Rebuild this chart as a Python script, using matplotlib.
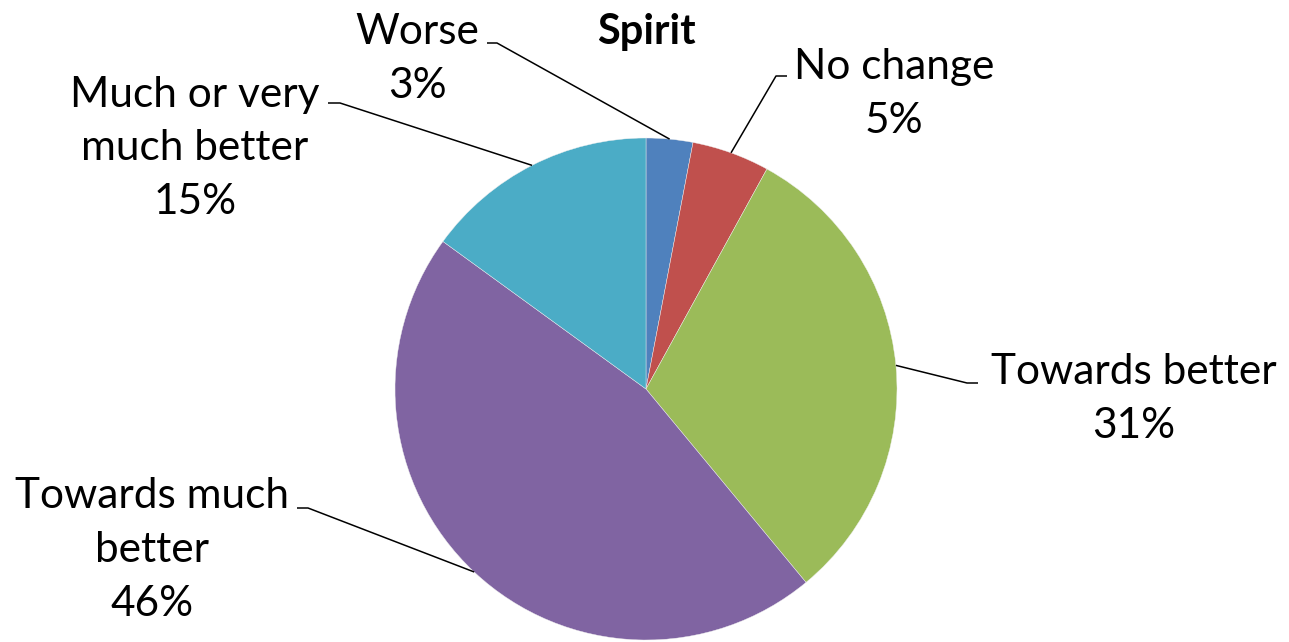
import numpy as np
import matplotlib.pyplot as plt

W, H = 1289, 642

labels = ["Worse", "No change", "Towards better", "Towards much\nbetter", "Much or very\nmuch better"]
values = [3, 5, 31, 46, 15]
colors = ["#4F81BD", "#C0504D", "#9BBB59", "#8064A2", "#4BACC6"]

# label block centres and leader elbows, in pixel coords (y down)
label_xy = [(417, 59), (894, 94), (1134, 399), (152, 550), (195, 148)]
elbow = [((487, 43), (497, 43)),
         ((787, 76), (776, 76)),
         ((978, 383), (967, 383)),
         ((297, 508), (308, 508)),
         ((328, 103), (340, 103))]

CX, CY, R = 646, 389, 251
FONT = "Lato"


def px(x, y):
    return x, H - y


fig = plt.figure(figsize=(W / 100, H / 100), dpi=100)
ax = fig.add_axes([0, 0, 1, 1])
ax.set_xlim(0, W)
ax.set_ylim(0, H)
ax.set_aspect("equal")
ax.axis("off")

wedges, _ = ax.pie(values, colors=colors, startangle=90, counterclock=False,
                   center=px(CX, CY), radius=R,
                   wedgeprops=dict(linewidth=0.3, edgecolor="#f0f0f0"))
ax.set_xlim(0, W)
ax.set_ylim(0, H)

total = sum(values)
for w, lab, v, (tx, ty), (e0, e1) in zip(wedges, labels, values, label_xy, elbow):
    mid = np.deg2rad((w.theta1 + w.theta2) / 2)
    ex, ey = CX + R * np.cos(mid), CY - R * np.sin(mid)
    xs = [e0[0], e1[0], ex]
    ys = [H - e0[1], H - e1[1], H - ey]
    ax.plot(xs, ys, color="black", lw=1.1, solid_capstyle="butt")
    pct = round(100 * v / total)
    ax.text(*px(tx, ty), f"{lab}\n{pct}%", ha="center", va="center",
            fontsize=30.5, family=FONT, linespacing=1.5, color="black")

ax.text(*px(646, 32), "Spirit", ha="center", va="center", fontsize=30,
        family=FONT, fontweight="bold")

fig.savefig("out.png", dpi=100, facecolor="white")
